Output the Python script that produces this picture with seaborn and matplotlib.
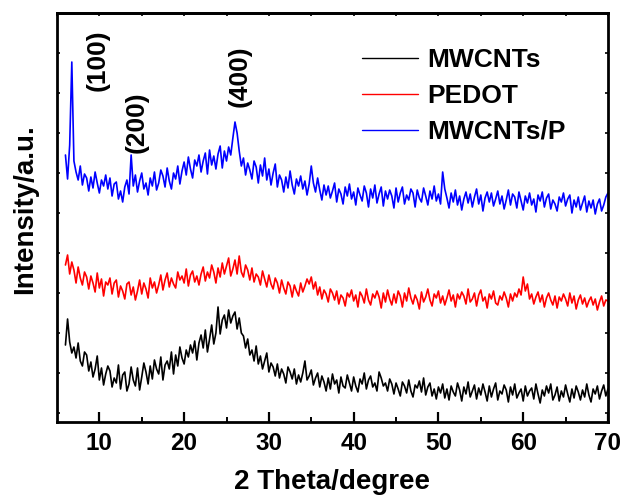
import numpy as np
import pandas as pd
import matplotlib
matplotlib.use("Agg")
import matplotlib.pyplot as plt
import seaborn as sns

sns.set_style("ticks", {"axes.edgecolor": "black", "xtick.color": "black",
                        "ytick.color": "black", "text.color": "black",
                        "axes.labelcolor": "black"})
plt.rcParams["font.family"] = ["Liberation Sans", "DejaVu Sans"]
plt.rcParams["font.weight"] = "bold"

# 2theta grid of the scan (step 0.25 deg)
two_theta = np.arange(6.0, 70.01, 0.25)

# raw intensities (a.u.), two degrees per row
mwcnts = [
    68, 94, 71, 60, 66, 55, 70, 52,
    47, 61, 58, 42, 51, 36, 44, 57,
    33, 45, 28, 39, 47, 42, 26, 35,
    30, 48, 24, 38, 41, 22, 29, 46,
    33, 27, 45, 23, 36, 50, 41, 29,
    47, 34, 53, 44, 39, 56, 33, 48,
    52, 44, 61, 39, 58, 47, 66, 55,
    49, 63, 56, 68, 60, 72, 53, 70,
    78, 65, 83, 61, 74, 88, 69, 80,
    106, 79, 93, 98, 85, 103, 90, 97,
    101, 84, 95, 80, 77, 65, 74, 58,
    63, 52, 67, 49, 57, 44, 52, 60,
    41, 50, 46, 37, 49, 35, 44, 39,
    30, 46, 41, 34, 44, 29, 38, 31,
    40, 52, 33, 37, 43, 28, 35, 40,
    26, 37, 31, 22, 35, 24, 39, 29,
    33, 20, 36, 27, 25, 38, 30, 22,
    36, 27, 21, 34, 29, 40, 24, 33,
    37, 26, 30, 22, 41, 35, 27, 30,
    22, 34, 29, 19, 30, 24, 17, 31,
    27, 20, 33, 22, 16, 28, 25, 32,
    21, 35, 18, 26, 30, 17, 24, 14,
    26, 20, 29, 15, 24, 13, 27, 21,
    17, 30, 23, 12, 26, 19, 31, 16,
    22, 28, 14, 25, 18, 29, 21, 12,
    27, 16, 24, 30, 13, 22, 19, 28,
    23, 11, 26, 18, 29, 15, 20, 24,
    12, 27, 17, 22, 25, 14, 29, 19,
    10, 23, 17, 27, 20, 29, 13, 18,
    26, 12, 22, 16, 28, 19, 11, 24,
    15, 27, 21, 13, 23, 16, 29, 18,
    11, 24, 19, 27, 14, 22, 28, 17,
    24,
]
pedot = [
    48, 58, 39, 51, 43, 30, 46, 35,
    28, 41, 36, 24, 37, 30, 21, 40,
    25, 34, 17, 31, 28, 35, 19, 30,
    33, 16, 27, 22, 14, 29, 31, 18,
    26, 13, 22, 33, 19, 30, 24, 15,
    35, 25, 31, 20, 28, 38, 23, 33,
    40, 26, 35, 29, 25, 41, 33, 37,
    30, 44, 27, 38, 42, 31, 37, 28,
    39, 46, 32, 41, 35, 48, 41, 30,
    45, 36, 50, 39, 47, 55, 37, 44,
    53, 39, 57, 41, 36, 48, 43, 33,
    45, 31, 39, 36, 28, 42, 34, 26,
    38, 29, 24, 35, 30, 20, 33, 25,
    19, 31, 27, 16, 28, 22, 17, 30,
    21, 27, 34, 29, 36, 24, 31, 18,
    26, 14, 23, 19, 11, 24, 20, 13,
    22, 9, 18, 15, 7, 20, 16, 23,
    12, 18, 6, 21, 17, 10, 24, 13,
    8, 19, 15, 22, 16, 5, 20, 11,
    23, 14, 8, 19, 10, 22, 17, 6,
    20, 12, 25, 15, 9, 18, 13, 4,
    21, 11, 16, 24, 13, 7, 19, 15,
    22, 10, 17, 8, 15, 23, 12, 18,
    6, 19, 14, 21, 17, 9, 24, 11,
    14, 20, 7, 18, 23, 12, 16, 5,
    19, 14, 22, 10, 8, 17, 13, 21,
    15, 6, 19, 12, 20, 16, 24, 18,
    36, 22, 29, 14, 19, 9, 16, 21,
    11, 18, 6, 15, 20, 13, 8, 17,
    5, 16, 12, 19, 14, 7, 20, 10,
    17, 4, 13, 18, 9, 15, 6, 12,
    16, 8, 14, 3, 11, 17, 7, 13,
    12,
]
mwcnts_p = [
    58, 34, 68, 151, 52, 41, 33, 47,
    28, 39, 35, 22, 36, 25, 41, 30,
    20, 33, 27, 38, 24, 35, 17, 29,
    31, 14, 22, 11, 26, 33, 19, 58,
    27, 38, 21, 32, 40, 24, 30, 18,
    35, 27, 41, 23, 30, 43, 37, 26,
    45, 32, 24, 40, 34, 47, 29, 42,
    51, 38, 56, 44, 35, 53, 47, 58,
    41, 52, 60, 39, 63, 48, 57, 44,
    59, 67, 45, 62, 52, 66, 58, 75,
    91, 80, 62, 47, 55, 38, 50, 43,
    34, 52, 46, 30, 48, 37, 55, 33,
    44, 28, 40, 49, 26, 38, 33, 21,
    36, 25, 42, 28, 19, 34, 27, 37,
    24, 32, 18, 29, 47, 30, 21, 35,
    23, 13, 28, 18, 27, 15, 22, 30,
    11, 24, 19, 9, 26, 17, 29, 14,
    21, 8, 25, 18, 12, 27, 20, 6,
    24, 15, 28, 10, 19, 26, 7, 22,
    14, 23, 17, 5, 25, 11, 20, 26,
    9, 18, 13, 24, 20, 6, 23, 15,
    11, 25, 17, 8, 22, 14, 27, 12,
    19, 9, 41, 24, 15, 5, 20, 11,
    23, 8, 17, 3, 14, 21, 10, 19,
    6, 16, 24, 9, 18, 2, 15, 21,
    11, 20, 7, 14, 22, 9, 17, 4,
    13, 23, 8, 19, 16, 5, 21, 12,
    3, 17, 10, 20, 8, 14, 1, 18,
    12, 21, 6, 15, 19, 4, 13, 9,
    2, 16, 11, 20, 7, 14, 18, 0,
    13, 6, 16, 3, 10, 17, 1, 12,
    5, 13, -1, 9, 14, 2, 8, 16,
    20,
]

labels = ["MWCNTs", "PEDOT", "MWCNTs/P"]
colors = ["black", "red", "blue"]
offsets = [0, 100, 200]  # vertical stacking of the patterns

peaks = ["(100)", "(200)", "(400)"]
peak_pos = [(9.8, 353), (14.4, 291), (26.6, 337)]

frames = []
for name, vals, off in zip(labels, [mwcnts, pedot, mwcnts_p], offsets):
    frames.append(pd.DataFrame({"theta": two_theta,
                                "intensity": np.array(vals) + off,
                                "sample": name}))
df = pd.concat(frames, ignore_index=True)

fig = plt.figure(figsize=(6.24, 4.95), dpi=100)
ax = fig.add_axes([0.0913, 0.1475, 0.8830, 0.8262])

sns.lineplot(data=df, x="theta", y="intensity", hue="sample",
             palette=dict(zip(labels, colors)), hue_order=labels,
             estimator=None, sort=False, linewidth=1.2, ax=ax)

ax.set_xlim(5, 70)
ax.set_ylim(-9, 400)
ax.set_xticks(range(10, 71, 10))
ax.set_xticks(range(15, 70, 10), minor=True)
ax.set_yticks(range(0, 400, 40))
ax.set_yticklabels([])
ax.tick_params(axis="x", which="major", direction="in", length=7, width=1.6,
               labelsize=17.5, pad=7)
ax.tick_params(axis="x", which="minor", direction="in", length=3.5, width=1.4)
ax.tick_params(axis="y", direction="in", length=2.5, width=1.2,
               left=True, right=True)
for lab in ax.get_xticklabels():
    lab.set_fontweight("bold")

top = ax.secondary_xaxis("top")
top.set_xticks(range(5, 71, 5))
top.tick_params(direction="in", length=2.5, width=1.2, labeltop=False)

for s in ax.spines.values():
    s.set_linewidth(2.0)
    s.set_visible(True)
top.spines["top"].set_linewidth(2.0)

ax.set_xlabel("2 Theta/degree", fontsize=20, fontweight="bold", labelpad=10)
ax.set_ylabel("Intensity/a.u.", fontsize=20, fontweight="bold")
ax.yaxis.set_label_coords(-0.0345, 0.52)

for txt, (px, py) in zip(peaks, peak_pos):
    ax.text(px, py, txt, rotation=90, ha="center", va="center",
            fontsize=19, fontweight="bold")

leg = ax.legend(loc="upper left", bbox_to_anchor=(0.535, 0.94), frameon=False,
                fontsize=19, handlelength=2.1, handletextpad=0.35,
                labelspacing=0.45, borderaxespad=0)
for t in leg.get_texts():
    t.set_fontweight("bold")
for h in leg.get_lines():
    h.set_linewidth(1.0)

fig.savefig("out.png", dpi=100)
